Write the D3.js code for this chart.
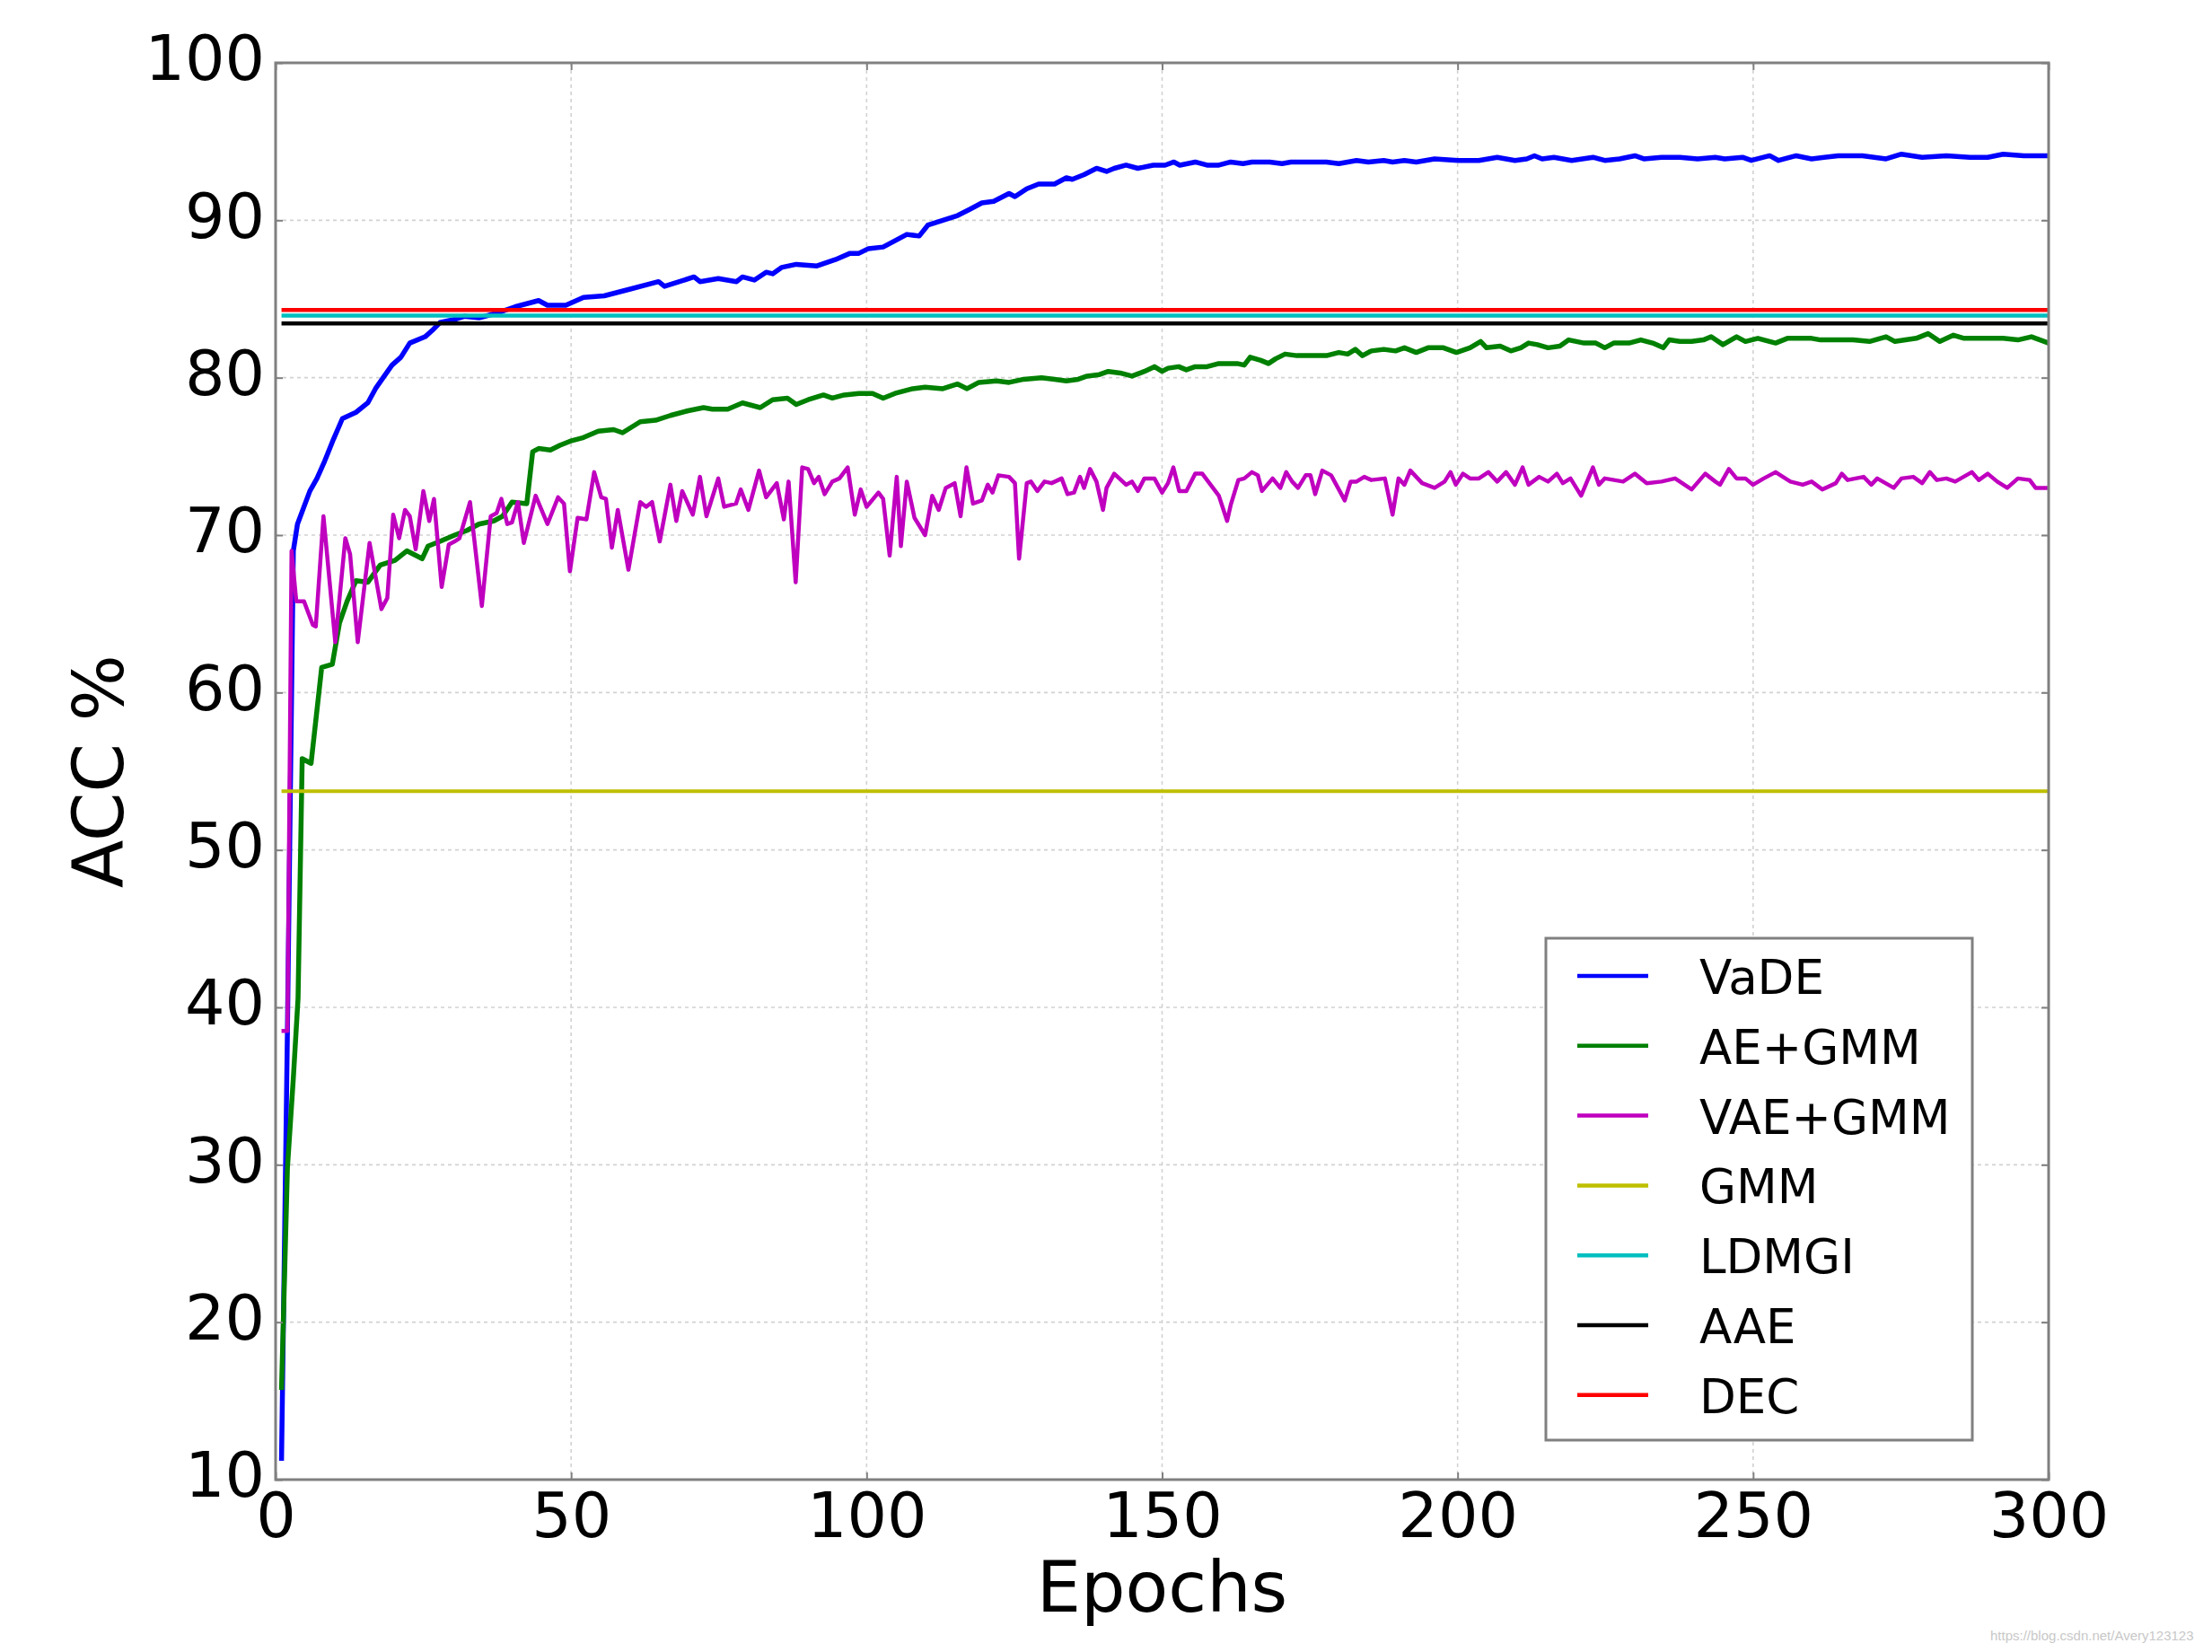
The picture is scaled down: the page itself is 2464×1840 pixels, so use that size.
<!DOCTYPE html>
<html>
<head>
<meta charset="utf-8">
<script src="https://d3js.org/d3.v7.min.js"></script>
<style>
  body { margin: 0; background: #fff; }
  svg { display: block; font-family: "DejaVu Sans", sans-serif; }
</style>
</head>
<body>
<svg id="chart" width="2464" height="1840"></svg>
<script>
// Tick values for both axes.
var epochTicks = [0, 50, 100, 150, 200, 250, 300];
var accTicks = [10, 20, 30, 40, 50, 60, 70, 80, 90, 100];

// Curves, as [epoch, ACC %].
var vade = [[1,11.2],[2,38.5],[3,69.0],[3.7,70.7],[5.8,72.8],[7,73.6],[8.3,74.7],[9.8,76.1],[11.3,77.4],[13.6,77.8],[15.6,78.4],[16.9,79.3],[18.2,80.0],[19.7,80.8],[21.2,81.3],[22.7,82.2],[25.3,82.6],[26.5,83.0],[27.8,83.5],[30.3,83.7],[31.9,83.9],[34.4,83.8],[37.4,84.1],[40.5,84.5],[44.5,84.9],[46,84.6],[49.1,84.6],[52.1,85.1],[55.6,85.2],[59.7,85.6],[64.8,86.1],[65.8,85.8],[70.8,86.4],[71.8,86.1],[74.9,86.3],[78,86.1],[79,86.4],[81,86.2],[83,86.7],[84.1,86.6],[85.6,87.0],[88.1,87.2],[91.6,87.1],[94.7,87.5],[97.2,87.9],[98.7,87.9],[100.3,88.2],[102.8,88.3],[104.8,88.7],[106.8,89.1],[108.9,89.0],[110.4,89.7],[112.9,90.0],[115.4,90.3],[117.5,90.7],[119.5,91.1],[121.5,91.2],[124.1,91.7],[125.1,91.5],[127.1,92.0],[129.1,92.3],[131.8,92.3],[133.8,92.7],[134.8,92.6],[136.8,92.9],[138.9,93.3],[140.6,93.1],[141.9,93.3],[143.9,93.5],[145.9,93.3],[148.5,93.5],[150.5,93.5],[152,93.7],[153,93.5],[155.6,93.7],[157.6,93.5],[159.6,93.5],[161.6,93.7],[163.7,93.6],[165.2,93.7],[168.2,93.7],[170.3,93.6],[171.8,93.7],[175.3,93.7],[177.8,93.7],[179.9,93.6],[182.9,93.8],[184.9,93.7],[187.5,93.8],[189,93.7],[191,93.8],[193,93.7],[196.1,93.9],[200.1,93.8],[203.6,93.8],[206.7,94.0],[209.7,93.8],[211.7,93.9],[213,94.1],[214.3,93.9],[216.3,94.0],[219.3,93.8],[222.9,94.0],[224.9,93.8],[227.4,93.9],[230,94.1],[231.5,93.9],[234.5,94.0],[237.6,94.0],[240.6,93.9],[243.6,94.0],[245.2,93.9],[248.2,94.0],[249.7,93.8],[252.8,94.1],[254.3,93.8],[257.3,94.1],[259.9,93.9],[264.4,94.1],[268.5,94.1],[272.5,93.9],[275.1,94.2],[278.6,94.0],[282.7,94.1],[286.7,94.0],[289.7,94.0],[292.3,94.2],[295.8,94.1],[300,94.1]];

var aeGmm = [[1,15.7],[2,29.8],[3,35.5],[3.8,40.6],[4.5,55.8],[6,55.5],[7.8,61.6],[9.6,61.8],[10.8,64.4],[12.1,65.8],[13.6,67.1],[15.6,67.0],[17.7,68.1],[20.2,68.4],[22.2,69.0],[24.8,68.5],[25.8,69.3],[27.8,69.6],[30.3,70.0],[32.4,70.3],[34.4,70.7],[36.9,70.9],[38.4,71.2],[40,72.1],[42.5,72.0],[43.5,75.3],[44.5,75.5],[46.5,75.4],[48.1,75.7],[50.1,76.0],[52.1,76.2],[54.6,76.6],[57.2,76.7],[58.7,76.5],[61.7,77.2],[64.3,77.3],[66.8,77.6],[69.8,77.9],[72.4,78.1],[73.9,78.0],[76.5,78.0],[79,78.4],[82,78.1],[84.1,78.6],[86.6,78.7],[88.1,78.3],[90.1,78.6],[92.7,78.9],[94.2,78.7],[96.2,78.9],[98.7,79.0],[101,79.0],[102.8,78.7],[104.8,79.0],[107.8,79.3],[109.9,79.4],[112.9,79.3],[115.4,79.6],[117,79.3],[119,79.7],[122,79.8],[124.1,79.7],[126.6,79.9],[129.6,80.0],[131.8,79.9],[133.8,79.8],[135.8,79.9],[137.3,80.1],[139.4,80.2],[140.9,80.4],[142.9,80.3],[144.9,80.1],[147,80.4],[148.7,80.7],[150,80.4],[151,80.6],[152.8,80.7],[154.1,80.5],[155.6,80.7],[157.6,80.7],[159.6,80.9],[162.7,80.9],[163.9,80.8],[164.9,81.3],[166.7,81.1],[168,80.9],[169.2,81.2],[170.8,81.5],[172.8,81.4],[175.3,81.4],[177.8,81.4],[179.9,81.6],[181.4,81.5],[182.7,81.8],[183.9,81.4],[185.4,81.7],[187.5,81.8],[189.5,81.7],[191,81.9],[193,81.6],[195,81.9],[197.6,81.9],[199.8,81.6],[202.1,81.9],[203.9,82.3],[204.9,81.9],[207.2,82.0],[209,81.7],[210.7,81.9],[212,82.2],[213.5,82.1],[215.3,81.9],[217.3,82.0],[218.8,82.4],[221.4,82.2],[223.4,82.2],[224.9,81.9],[226.4,82.2],[229,82.2],[231,82.4],[233,82.2],[234.8,81.9],[235.8,82.4],[237.6,82.3],[239.6,82.3],[241.6,82.4],[242.9,82.6],[244.9,82.1],[247.2,82.6],[248.7,82.3],[250.8,82.5],[253.8,82.2],[255.8,82.5],[259.9,82.5],[261.4,82.4],[264.4,82.4],[266.9,82.4],[269.7,82.3],[272.5,82.6],[274,82.3],[277.6,82.5],[279.6,82.8],[281.6,82.3],[283.9,82.7],[285.7,82.5],[288.7,82.5],[292.3,82.5],[294.8,82.4],[297.1,82.6],[300,82.2]];

var vaeGmm = [[1,38.5],[2,38.5],[2.7,69.0],[3.5,65.8],[4.8,65.8],[6.3,64.3],[6.8,64.2],[8.1,71.2],[10.1,63.2],[11.8,69.8],[12.6,68.8],[13.9,63.2],[15.9,69.5],[17.9,65.3],[18.9,66.0],[19.9,71.3],[20.9,69.8],[21.9,71.6],[22.7,71.2],[23.7,69.1],[25,72.8],[26,70.9],[26.8,72.3],[28.1,66.7],[29.3,69.4],[30.3,69.6],[31.1,69.8],[32.9,72.1],[34.9,65.5],[36.4,71.2],[37.4,71.4],[38.2,72.3],[39.2,70.7],[40,70.8],[41,72.1],[42,69.5],[44,72.5],[46,70.7],[47.8,72.4],[48.8,72.0],[49.8,67.7],[51.1,71.1],[52.6,71.0],[53.9,74.0],[55.1,72.4],[55.9,72.3],[56.9,69.2],[57.9,71.6],[59.7,67.8],[61.7,72.1],[62.7,71.8],[63.7,72.1],[65,69.6],[66.8,73.2],[67.8,70.9],[68.8,72.8],[70.6,71.3],[71.8,73.7],[72.9,71.2],[74.9,73.6],[75.9,71.8],[77.9,72.0],[78.7,72.9],[80,71.6],[81.8,74.1],[83,72.4],[84.8,73.3],[86,71.0],[86.8,73.4],[88,67.0],[89.1,74.3],[90.1,74.2],[91.1,73.3],[91.9,73.7],[92.9,72.6],[94.2,73.4],[95.4,73.6],[96.8,74.3],[98,71.3],[99,72.9],[100,71.8],[102,72.7],[102.8,72.3],[103.9,68.7],[105.1,73.7],[105.8,69.3],[106.8,73.4],[108.1,71.1],[109.9,70.0],[111.1,72.5],[112.2,71.6],[113.4,73.0],[114.9,73.3],[115.9,71.2],[116.9,74.3],[118,72.0],[119.5,72.2],[120.5,73.2],[121.3,72.7],[122.3,73.8],[124.1,73.7],[125.1,73.3],[125.8,68.5],[127.1,73.3],[127.8,73.4],[128.9,72.8],[130.1,73.4],[131.3,73.3],[133,73.6],[134,72.6],[135.1,72.7],[136.1,73.7],[136.8,73.0],[137.8,74.2],[138.9,73.4],[140,71.6],[140.6,73.0],[141.9,73.9],[143.9,73.2],[144.9,73.4],[145.9,72.8],[147,73.6],[148.7,73.6],[150,72.7],[151,73.3],[151.9,74.3],[152.9,72.8],[154.1,72.8],[155.6,73.9],[156.8,73.9],[157.8,73.4],[159.6,72.5],[161,70.9],[161.6,71.9],[162.9,73.5],[163.9,73.6],[165.2,74.0],[166.2,73.8],[166.9,72.8],[168.7,73.6],[170,73.0],[171,74.0],[172,73.4],[173,73.0],[174.3,73.8],[175.1,73.8],[175.9,72.6],[177.1,74.1],[178.6,73.8],[179.9,72.9],[180.9,72.2],[181.9,73.4],[182.9,73.4],[184.2,73.7],[185.4,73.5],[187.7,73.6],[189,71.3],[190,73.6],[191,73.2],[192,74.1],[194,73.3],[196.1,73.0],[197.8,73.4],[198.8,74.0],[199.7,73.2],[200.9,73.9],[202.1,73.6],[203.6,73.6],[205.2,74.0],[206.7,73.4],[208.2,74.0],[209.7,73.2],[211,74.3],[212,73.2],[213.8,73.7],[215.3,73.4],[216.8,73.9],[217.8,73.3],[219.1,73.6],[220.9,72.5],[222.9,74.3],[223.9,73.2],[224.9,73.6],[228,73.4],[230,73.9],[232,73.3],[234.5,73.4],[236.8,73.6],[239.6,72.9],[241.9,73.9],[243.6,73.4],[244.4,73.2],[245.9,74.2],[247.2,73.6],[248.7,73.6],[250,73.2],[251.8,73.6],[253.8,74.0],[256.3,73.4],[258.4,73.2],[259.9,73.4],[261.7,72.9],[264,73.3],[265,73.9],[266,73.5],[268.7,73.7],[270,73.2],[271,73.6],[273.8,73.0],[275.1,73.6],[277.1,73.7],[278.6,73.3],[279.9,74.0],[281.1,73.5],[282.7,73.6],[284.2,73.4],[287,74.0],[288.2,73.5],[289.7,73.9],[291.3,73.4],[293,73.0],[294.8,73.6],[296.8,73.5],[297.8,73.0],[300,73.0]];

// Flat reference lines (one value each).
var baselineNames = ["GMM", "LDMGI", "AAE", "DEC"];
var baselineAcc = [53.73, 83.95, 83.45, 84.3];
var baselineSpan = [1, 300];

// Legend order = drawing order.
var seriesNames = ["VaDE", "AE+GMM", "VAE+GMM", "GMM", "LDMGI", "AAE", "DEC"];
var seriesColors = ["#0000ff", "#008000", "#bf00bf", "#bfbf00", "#00bfbf", "#000000", "#ff0000"];
var seriesWidths = [5.5, 5.5, 4.5, 4, 4.5, 4.5, 4.5];

var svg = d3.select("#chart");

// plot box in page pixels ("top" is taken by window.top, so prefix them)
var plotLeft = 307, plotRight = 2282, plotTop = 70, plotBottom = 1648;

var x = d3.scaleLinear().domain([0, 300]).range([plotLeft, plotRight]);
var y = d3.scaleLinear().domain([10, 100]).range([plotBottom, plotTop]);

svg.append("rect")
  .attr("width", 2464).attr("height", 1840)
  .attr("fill", "#fff");

// Dotted grid
var grid = svg.append("g")
  .attr("stroke", "#d2d2d2")
  .attr("stroke-width", 1.6)
  .attr("stroke-dasharray", "4,4");

grid.selectAll(".gx").data(epochTicks.slice(1, -1)).enter().append("line")
  .attr("x1", function (d) { return x(d); })
  .attr("x2", function (d) { return x(d); })
  .attr("y1", plotTop).attr("y2", plotBottom);

grid.selectAll(".gy").data(accTicks.slice(1, -1)).enter().append("line")
  .attr("y1", function (d) { return y(d); })
  .attr("y2", function (d) { return y(d); })
  .attr("x1", plotLeft).attr("x2", plotRight);

// Curves and flat lines
var lines = seriesNames.map(function (name, i) {
  if (i < 3) return [vade, aeGmm, vaeGmm][i];
  var v = baselineAcc[baselineNames.indexOf(name)];
  return baselineSpan.map(function (e) { return [e, v]; });
});

var line = d3.line()
  .x(function (d) { return x(d[0]); })
  .y(function (d) { return y(d[1]); });

svg.append("g").selectAll("path").data(lines).enter().append("path")
  .attr("d", line)
  .attr("fill", "none")
  .attr("stroke", function (d, i) { return seriesColors[i]; })
  .attr("stroke-width", function (d, i) { return seriesWidths[i]; })
  .attr("stroke-linejoin", "round");

// Axes: inward ticks on all four sides, labels only left and bottom.
function styleAxis(g) {
  g.select(".domain").remove();
  g.selectAll(".tick line").attr("stroke", "#808080").attr("stroke-width", 2);
  g.selectAll(".tick text")
    .attr("fill", "#000")
    .attr("font-size", 70)
    .attr("font-family", "DejaVu Sans, sans-serif");
}

svg.append("g")
  .attr("transform", "translate(" + plotLeft + ",0)")
  .call(d3.axisLeft(y).tickValues(accTicks).tickSize(-8).tickPadding(12))
  .call(styleAxis)
  .selectAll(".tick text").attr("dy", "0.27em");

svg.append("g")
  .attr("transform", "translate(0," + plotBottom + ")")
  .call(d3.axisBottom(x).tickValues(epochTicks).tickSize(-8).tickPadding(14))
  .call(styleAxis);

svg.append("g")
  .attr("transform", "translate(" + plotRight + ",0)")
  .call(d3.axisRight(y).tickValues(accTicks).tickSize(-8).tickFormat(""))
  .call(styleAxis);

svg.append("g")
  .attr("transform", "translate(0," + plotTop + ")")
  .call(d3.axisTop(x).tickValues(epochTicks).tickSize(-8).tickFormat(""))
  .call(styleAxis);

// Frame
svg.append("rect")
  .attr("x", plotLeft).attr("y", plotTop)
  .attr("width", plotRight - plotLeft).attr("height", plotBottom - plotTop)
  .attr("fill", "none")
  .attr("stroke", "#808080")
  .attr("stroke-width", 3);

// Axis titles
svg.append("text")
  .attr("x", (plotLeft + plotRight) / 2).attr("y", 1795)
  .attr("text-anchor", "middle")
  .attr("font-size", 78)
  .text("Epochs");

svg.append("text")
  .attr("transform", "translate(137," + (plotTop + plotBottom) / 2 + ") rotate(-90)")
  .attr("text-anchor", "middle")
  .attr("font-size", 78)
  .text("ACC %");

// Legend
var legend = svg.append("g");

legend.append("rect")
  .attr("x", 1722).attr("y", 1045)
  .attr("width", 475).attr("height", 559)
  .attr("fill", "#fff")
  .attr("stroke", "#808080")
  .attr("stroke-width", 3);

var item = legend.selectAll(".item").data(seriesNames).enter().append("g")
  .attr("transform", function (d, i) { return "translate(0," + (1087 + i * 77.8) + ")"; });

item.append("line")
  .attr("x1", 1757).attr("x2", 1836)
  .attr("stroke", function (d, i) { return seriesColors[i]; })
  .attr("stroke-width", 4.5);

item.append("text")
  .attr("x", 1893).attr("y", 20)
  .attr("font-size", 53)
  .text(function (d) { return d; });

// Watermark
svg.append("text")
  .attr("x", 2217).attr("y", 1827)
  .attr("font-family", "Liberation Sans, Arial, sans-serif")
  .attr("font-size", 15)
  .attr("fill", "#c8c8c8")
  .text("https://blog.csdn.net/Avery123123");
</script>
</body>
</html>
